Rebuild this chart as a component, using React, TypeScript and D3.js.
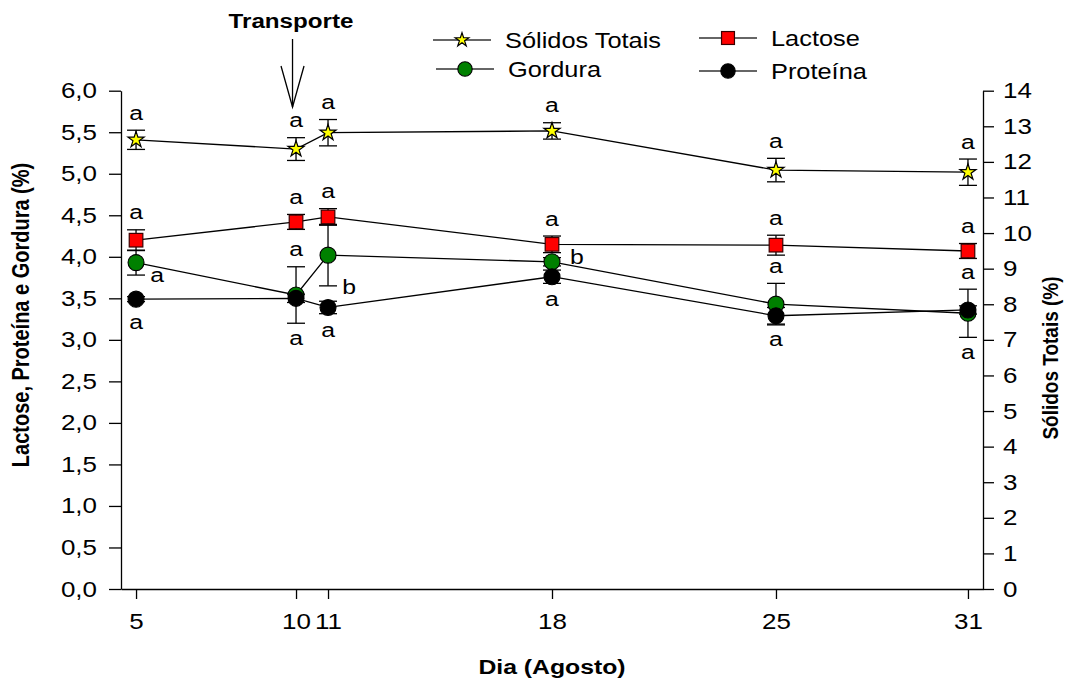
import React, { useEffect, useRef } from "react";
import * as d3 from "d3";

// Sampling days (August) and the measured composition per day
const days = [5, 10, 11, 18, 25, 31];

const solidos = [12.62, 12.36, 12.82, 12.87, 11.77, 11.71];
const solidosErr = [0.27, 0.32, 0.37, 0.23, 0.33, 0.37];

const lactose = [4.2, 4.42, 4.48, 4.15, 4.14, 4.07];
const lactoseErr = [0.125, 0.09, 0.1, 0.1, 0.12, 0.09];

const gordura = [3.93, 3.54, 4.02, 3.94, 3.43, 3.32];
const gorduraErr = [0.15, 0.34, 0.37, 0.05, 0.25, 0.29];

const proteina = [3.49, 3.5, 3.39, 3.76, 3.29, 3.36];
const proteinaErr = [0.03, 0.05, 0.075, 0.08, 0.1, 0.05];

// Significance letters and where each one sits relative to its mark
const solidosLetters = ["a", "a", "a", "a", "a", "a"];
const solidosSide = ["above", "above", "above", "above", "above", "above"];
const lactoseLetters = ["a", "a", "a", "a", "a", "a"];
const lactoseSide = ["above", "above", "above", "above", "above", "above"];
const gorduraLetters = ["a", "a", "b", "b", "a", "a"];
const gorduraSide = ["lowerRight", "above", "lowerRight", "right", "above", "above"];
const proteinaLetters = ["a", "a", "a", "a", "a", "a"];
const proteinaSide = ["below", "below", "below", "below", "below", "below"];

// Axis ticks
const leftTicks = [0, 0.5, 1, 1.5, 2, 2.5, 3, 3.5, 4, 4.5, 5, 5.5, 6];
const rightTicks = [0, 1, 2, 3, 4, 5, 6, 7, 8, 9, 10, 11, 12, 13, 14];
const dayTicks = days;

const FONT = "Arial, 'Liberation Sans', Helvetica, sans-serif";
const K = 1.18; // horizontal widening of the lettering

type Marker = "star" | "square" | "circle";

interface Series {
  name: string;
  values: number[];
  err: number[];
  axis: "left" | "right";
  marker: Marker;
  fill: string;
  letters: string[];
  sides: string[];
}

const series: Series[] = [
  { name: "Sólidos Totais", values: solidos, err: solidosErr, axis: "right", marker: "star", fill: "#ffff00", letters: solidosLetters, sides: solidosSide },
  { name: "Lactose", values: lactose, err: lactoseErr, axis: "left", marker: "square", fill: "#ff0000", letters: lactoseLetters, sides: lactoseSide },
  { name: "Gordura", values: gordura, err: gorduraErr, axis: "left", marker: "circle", fill: "#008000", letters: gorduraLetters, sides: gorduraSide },
  { name: "Proteína", values: proteina, err: proteinaErr, axis: "left", marker: "circle", fill: "#000000", letters: proteinaLetters, sides: proteinaSide },
];

const legendOrder = ["Sólidos Totais", "Lactose", "Gordura", "Proteína"];

export default function App() {
  const ref = useRef<SVGSVGElement | null>(null);

  useEffect(() => {
    const svg = d3.select(ref.current);
    svg.selectAll("*").remove();

    const left = 121;
    const right = 983;
    const top = 90.7;
    const bottom = 589;

    const x = d3.scaleLinear().domain([4.53, 31.47]).range([left, right]);
    const yL = d3.scaleLinear().domain([0, 6]).range([bottom, top]);
    const yR = d3.scaleLinear().domain([0, 14]).range([bottom, top]);
    const yOf = (s: Series) => (s.axis === "left" ? yL : yR);

    const ptBR = d3.formatLocale({ decimal: ",", thousands: ".", grouping: [3], currency: ["R$", ""] });
    const fmt1 = ptBR.format(".1f");

    const widen = (g: d3.Selection<SVGGElement, unknown, null, undefined>) => {
      g.selectAll<SVGTextElement, unknown>("text").each(function () {
        const t = d3.select(this);
        const x0 = +(t.attr("x") || 0);
        t.attr("x", x0 / K).attr("transform", `scale(${K},1)`);
      });
    };

    const styleAxis = (g: d3.Selection<SVGGElement, unknown, null, undefined>) => {
      g.attr("font-family", FONT).attr("font-size", 22);
      g.selectAll("path, line").attr("stroke", "#000").attr("stroke-width", 1.3);
      g.selectAll("text").attr("fill", "#000");
    };

    // Axes
    const gL = svg.append("g").attr("transform", `translate(${left},0)`);
    gL.call(d3.axisLeft(yL).tickValues(leftTicks).tickSize(12).tickSizeOuter(0).tickPadding(12).tickFormat((d) => fmt1(d as number)));
    styleAxis(gL);
    widen(gL);

    const gR = svg.append("g").attr("transform", `translate(${right},0)`);
    gR.call(d3.axisRight(yR).tickValues(rightTicks).tickSize(11).tickSizeOuter(0).tickPadding(9).tickFormat(d3.format("d")));
    styleAxis(gR);
    widen(gR);

    const gB = svg.append("g").attr("transform", `translate(0,${bottom})`);
    gB.call(d3.axisBottom(x).tickValues(dayTicks).tickSize(10).tickSizeOuter(0).tickPadding(14).tickFormat(d3.format("d")));
    styleAxis(gB);
    widen(gB);

    const text = (
      str: string,
      tx: number,
      ty: number,
      opts: { size?: number; bold?: boolean; anchor?: string; rotate?: boolean } = {}
    ) => {
      const t = svg
        .append("text")
        .attr("font-family", FONT)
        .attr("font-size", opts.size ?? 21)
        .attr("font-weight", opts.bold ? "bold" : "normal")
        .attr("text-anchor", opts.anchor ?? "start")
        .attr("fill", "#000")
        .text(str);
      if (opts.rotate) t.attr("transform", `translate(${tx},${ty}) rotate(-90) scale(1,${K})`);
      else t.attr("transform", `translate(${tx},${ty}) scale(${K},1)`);
      return t;
    };

    // Axis titles
    text("Lactose, Proteína e Gordura (%)", 28.5, 315, { size: 20, bold: true, anchor: "middle", rotate: true });
    text("Sólidos Totais (%)", 1058, 358, { size: 19, bold: true, anchor: "middle", rotate: true });
    text("Dia (Agosto)", 552, 674, { size: 21, bold: true, anchor: "middle" });

    // Transport annotation with open arrow pointing at day 10
    const ax = x(10) - 3.5;
    text("Transporte", 291, 28, { size: 20.5, bold: true, anchor: "middle" });
    const arrow = svg.append("g").attr("stroke", "#000").attr("stroke-width", 1.3).attr("fill", "none");
    arrow.append("line").attr("x1", ax).attr("x2", ax).attr("y1", 39).attr("y2", 107);
    arrow.append("path").attr("d", `M${ax - 11.5},66 L${ax},107 L${ax + 11.5},66`);

    const starSymbol = (r: number) => d3.symbol(d3.symbolStar, (r * r) / 0.8908130915292852)();

    const drawMarker = (g: d3.Selection<SVGGElement, unknown, null, undefined>, s: Series, cx: number, cy: number, scale = 1) => {
      if (s.marker === "star") {
        g.append("path")
          .attr("d", starSymbol(8.5 * scale))
          .attr("transform", `translate(${cx},${cy})`)
          .attr("fill", s.fill)
          .attr("stroke", "#000")
          .attr("stroke-width", 1.2);
      } else if (s.marker === "square") {
        const h = 6.8 * scale;
        g.append("rect")
          .attr("x", cx - h)
          .attr("y", cy - h)
          .attr("width", 2 * h)
          .attr("height", 2 * h)
          .attr("fill", s.fill)
          .attr("stroke", "#3a0000")
          .attr("stroke-width", 1.2);
      } else {
        g.append("circle")
          .attr("cx", cx)
          .attr("cy", cy)
          .attr("r", 8 * scale)
          .attr("fill", s.fill)
          .attr("stroke", "#000")
          .attr("stroke-width", 1.1);
      }
    };

    const plot = svg.append("g");

    // Connecting lines
    series.forEach((s) => {
      const y = yOf(s);
      const line = d3
        .line<number>()
        .x((_, i) => x(days[i]))
        .y((v) => y(v));
      plot.append("path").attr("d", line(s.values) as string).attr("fill", "none").attr("stroke", "#000").attr("stroke-width", 1.3);
    });

    // Error bars
    series.forEach((s) => {
      const y = yOf(s);
      const eg = plot.append("g").attr("stroke", "#000").attr("stroke-width", 1.3);
      s.values.forEach((v, i) => {
        const cx = x(days[i]);
        const y1 = y(v + s.err[i]);
        const y2 = y(v - s.err[i]);
        eg.append("line").attr("x1", cx).attr("x2", cx).attr("y1", y1).attr("y2", y2);
        eg.append("line").attr("x1", cx - 9).attr("x2", cx + 9).attr("y1", y1).attr("y2", y1);
        eg.append("line").attr("x1", cx - 9).attr("x2", cx + 9).attr("y1", y2).attr("y2", y2);
      });
    });

    // Markers
    series.forEach((s) => {
      const y = yOf(s);
      const mg = plot.append("g");
      s.values.forEach((v, i) => drawMarker(mg, s, x(days[i]), y(v)));
    });

    // Significance letters
    const lowGroup = series.filter((s) => s.name === "Gordura" || s.name === "Proteína");
    series.forEach((s) => {
      const y = yOf(s);
      s.values.forEach((v, i) => {
        const letter = s.letters[i];
        const half = letter === "b" ? 7.5 : 5.5;
        const cx = x(days[i]);
        const py = y(v);
        const topY = y(v + s.err[i]);
        const botY = y(v - s.err[i]);
        let lx = cx;
        let cy = py;
        const side = s.sides[i];
        if (side === "above") {
          cy = topY - 16;
        } else if (side === "below") {
          const ref = d3.max(lowGroup, (g) => Math.max(yOf(g)(g.values[i] - g.err[i]), yOf(g)(g.values[i]) + 8)) as number;
          cy = ref + 16;
        } else if (side === "right") {
          lx = cx + 25;
          cy = py - 5;
        } else if (side === "lowerRight") {
          lx = cx + 21;
          cy = botY + 1;
        }
        text(letter, lx, cy + half, { size: 21, anchor: "middle" });
      });
    });

    // Legend
    const legendPos: Record<string, [number, number]> = {
      "Sólidos Totais": [462, 40],
      Lactose: [728, 38],
      Gordura: [465, 69],
      "Proteína": [728, 71],
    };
    const lg = svg.append("g");
    legendOrder.forEach((name) => {
      const s = series.find((d) => d.name === name) as Series;
      const [mx, my] = legendPos[name];
      lg.append("line").attr("x1", mx - 29).attr("x2", mx + 29).attr("y1", my).attr("y2", my).attr("stroke", "#333").attr("stroke-width", 1.3);
      drawMarker(lg, s, mx, my, s.marker === "circle" ? 0.9 : s.marker === "star" ? 0.85 : 0.95);
      text(name, mx + 43, my + 8, { size: 21.5 });
    });
  }, []);

  return (
    <svg
      ref={ref}
      width={1066}
      height={684}
      viewBox="0 0 1066 684"
      style={{ position: "absolute", left: 0, top: 0, background: "#fff" }}
    />
  );
}
